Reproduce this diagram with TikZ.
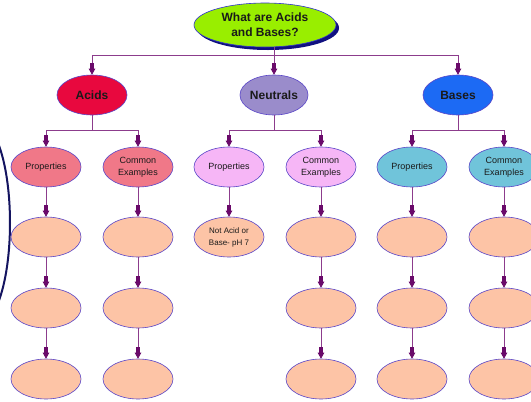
\documentclass[tikz,border=0pt]{standalone}
\usepackage{fontspec}
\setmainfont{Liberation Sans}
\usetikzlibrary{arrows.meta,shapes.geometric}
\definecolor{rootfill}{HTML}{99EE00}
\definecolor{rootline}{HTML}{3030D0}
\definecolor{shadowc}{HTML}{101080}
\definecolor{acidc}{HTML}{E8083E}
\definecolor{neutc}{HTML}{9A8CCB}
\definecolor{basec}{HTML}{1C6AF4}
\definecolor{apropc}{HTML}{F07888}
\definecolor{npropc}{HTML}{F6B6F6}
\definecolor{bpropc}{HTML}{70C4DA}
\definecolor{leafc}{HTML}{FDC4A6}
\definecolor{outl}{HTML}{5A46C8}
\definecolor{linc}{HTML}{8C3C8C}
\definecolor{arrc}{HTML}{6A0A6A}
\definecolor{txtc}{HTML}{1A1A1A}
\definecolor{arcc}{HTML}{141460}
\begin{document}
\begin{tikzpicture}[x=1pt,y=-1pt,
  box/.style={ellipse, draw=outl, line width=0.6pt, minimum width=70pt, minimum height=40pt,
    inner sep=0pt, align=center, font=\fontsize{9}{12}\selectfont, text=txtc},
  topbox/.style={box, font=\bfseries\fontsize{12}{15}\selectfont},
  leaf/.style={box, fill=leafc},
  conn/.style={draw=linc, line width=0.7pt},
  arr/.style={conn, -{Rectangle[length=6pt,width=4pt,color=arrc]Triangle[length=6pt,width=6.5pt,color=arrc]}},
]
\useasboundingbox (0,0) rectangle (531,402);
\fill[white] (0,0) rectangle (531,402);

% left clipped arc
\begin{scope}
\clip (0,0) rectangle (531,402);
\draw[arcc, line width=2pt] (-20,223) ellipse (30 and 100);
\end{scope}

% root
\node[ellipse, fill=shadowc, minimum width=142pt, minimum height=44pt, inner sep=0pt] (rootsh) at (268,28) {};
\node[topbox, fill=rootfill, draw=rootline, minimum width=142pt, minimum height=44pt] (root) at (265,25) {What are Acids\\and Bases?};

% level 1
\node[topbox, fill=acidc, minimum width=70pt] (acid) at (92,95) {Acids};
\node[topbox, fill=neutc, minimum width=68pt] (neut) at (274,95) {Neutrals};
\node[topbox, fill=basec, minimum width=70pt] (base) at (458,95) {Bases};

% level 2
\node[box, fill=apropc] (ap) at (46,167) {Properties};
\node[box, fill=apropc] (ac) at (138,167) {Common\\Examples};
\node[box, fill=npropc] (np) at (229,167) {Properties};
\node[box, fill=npropc] (nc) at (321,167) {Common\\Examples};
\node[box, fill=bpropc] (bp) at (412,167) {Properties};
\node[box, fill=bpropc] (bc) at (504,167) {Common\\Examples};

% leaves
\node[leaf] (ap1) at (46,237) {};
\node[leaf] (ap2) at (46,308) {};
\node[leaf] (ap3) at (46,379) {};
\node[leaf] (ac1) at (138,237) {};
\node[leaf] (ac2) at (138,308) {};
\node[leaf] (ac3) at (138,379) {};
\node[leaf, font=\fontsize{8}{12}\selectfont] (np1) at (229,237) {Not Acid or\\Base- pH 7};
\node[leaf] (nc1) at (321,237) {};
\node[leaf] (nc2) at (321,308) {};
\node[leaf] (nc3) at (321,379) {};
\node[leaf] (bp1) at (412,237) {};
\node[leaf] (bp2) at (412,308) {};
\node[leaf] (bp3) at (412,379) {};
\node[leaf] (bc1) at (504,237) {};
\node[leaf] (bc2) at (504,308) {};
\node[leaf] (bc3) at (504,379) {};

% bars
\coordinate (rbar) at (0,55);
\coordinate (lbar) at (0,130);

\draw[conn] (root.south -| neut) -- (neut |- rbar);
\draw[conn] (acid |- rbar) -- (base |- rbar);
\foreach \n in {acid,neut,base} \draw[arr] (\n |- rbar) -- (\n.north);

\foreach \p/\a/\b in {acid/ap/ac, neut/np/nc, base/bp/bc}{
  \draw[conn] (\p.south) -- (\p |- lbar);
  \draw[conn] (\a |- lbar) -- (\b |- lbar);
  \draw[arr] (\a |- lbar) -- (\a.north);
  \draw[arr] (\b |- lbar) -- (\b.north);
}

\foreach \c in {ap,ac,nc,bp,bc}{
  \draw[arr] (\c.south) -- (\c1.north);
  \draw[arr] (\c1.south) -- (\c2.north);
  \draw[arr] (\c2.south) -- (\c3.north);
}
\draw[arr] (np.south) -- (np1.north);
\end{tikzpicture}
\end{document}
